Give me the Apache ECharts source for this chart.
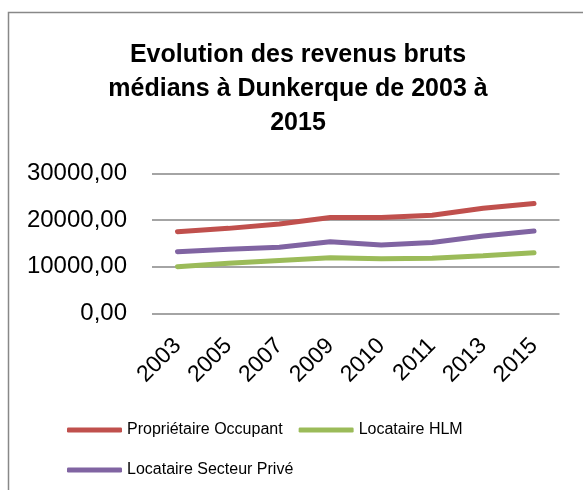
<!DOCTYPE html>
<html>
<head>
<meta charset="utf-8">
<script src="https://cdn.jsdelivr.net/npm/echarts@6/dist/echarts.min.js"></script>
<style>
  html, body { margin: 0; padding: 0; background: #fff; }
  #main { width: 583px; height: 490px; }
</style>
</head>
<body>
<div id="main"></div>
<script>
// données
var annees = ['2003', '2005', '2007', '2009', '2010', '2011', '2013', '2015'];
var proprietaire = [17500, 18200, 19150, 20550, 20550, 21000, 22500, 23550];
var hlm = [10000, 10700, 11300, 11900, 11700, 11800, 12350, 13000];
var prive = [13200, 13700, 14150, 15350, 14650, 15150, 16550, 17650];
var ticksY = [0, 10000, 20000, 30000];

var myChart = echarts.init(document.getElementById('main'));

var police = '"Liberation Sans", Arial, sans-serif';

var option = {
    animation: false,
    title: {
        text: 'Evolution des revenus bruts\nmédians à Dunkerque de 2003 à\n2015',
        left: 293,
        top: 33,
        textAlign: 'center',
        textStyle: {
            fontFamily: police,
            fontWeight: 'bold',
            fontSize: 25,
            lineHeight: 34,
            color: '#000'
        }
    },
    graphic: [{
        type: 'rect',
        shape: { x: 8.5, y: 12.5, width: 800, height: 800 },
        style: { fill: 'none', stroke: '#888', lineWidth: 1.5 }
    }],
    legend: [{
        left: 62,
        top: 417,
        itemWidth: 55,
        itemHeight: 5,
        itemGap: 16,
        icon: 'roundRect',
        textStyle: { fontFamily: police, fontSize: 16, color: '#000' },
        data: ['Propriétaire Occupant', 'Locataire HLM']
    }, {
        left: 62,
        top: 457,
        itemWidth: 55,
        itemHeight: 5,
        icon: 'roundRect',
        textStyle: { fontFamily: police, fontSize: 16, color: '#000' },
        data: ['Locataire Secteur Privé']
    }],
    grid: {
        left: 152,
        right: 23.5,
        top: 173.3,
        bottom: 176.7,
        containLabel: false
    },
    xAxis: {
        type: 'category',
        data: annees,
        axisLine: { show: false },
        axisTick: { show: false },
        axisLabel: {
            rotate: 45,
            margin: 29,
            interval: 0,
            fontFamily: police,
            fontSize: 23,
            color: '#000'
        }
    },
    yAxis: {
        type: 'value',
        min: ticksY[0],
        max: ticksY[ticksY.length - 1],
        interval: ticksY[1] - ticksY[0],
        axisLine: { show: false },
        axisTick: { show: false },
        splitLine: {
            lineStyle: { color: '#868686', width: 1.5 }
        },
        axisLabel: {
            margin: 25,
            fontFamily: police,
            fontSize: 24,
            color: '#000',
            formatter: function (v) { return v.toFixed(2).replace('.', ','); }
        }
    },
    series: [{
        name: 'Propriétaire Occupant',
        type: 'line',
        data: proprietaire,
        symbol: 'none',
        lineStyle: { color: '#C0504D', width: 5, cap: 'round' },
        itemStyle: { color: '#C0504D' }
    }, {
        name: 'Locataire HLM',
        type: 'line',
        data: hlm,
        symbol: 'none',
        lineStyle: { color: '#9BBB59', width: 5, cap: 'round' },
        itemStyle: { color: '#9BBB59' }
    }, {
        name: 'Locataire Secteur Privé',
        type: 'line',
        data: prive,
        symbol: 'none',
        lineStyle: { color: '#8064A2', width: 5, cap: 'round' },
        itemStyle: { color: '#8064A2' }
    }]
};

myChart.setOption(option);
</script>
</body>
</html>
